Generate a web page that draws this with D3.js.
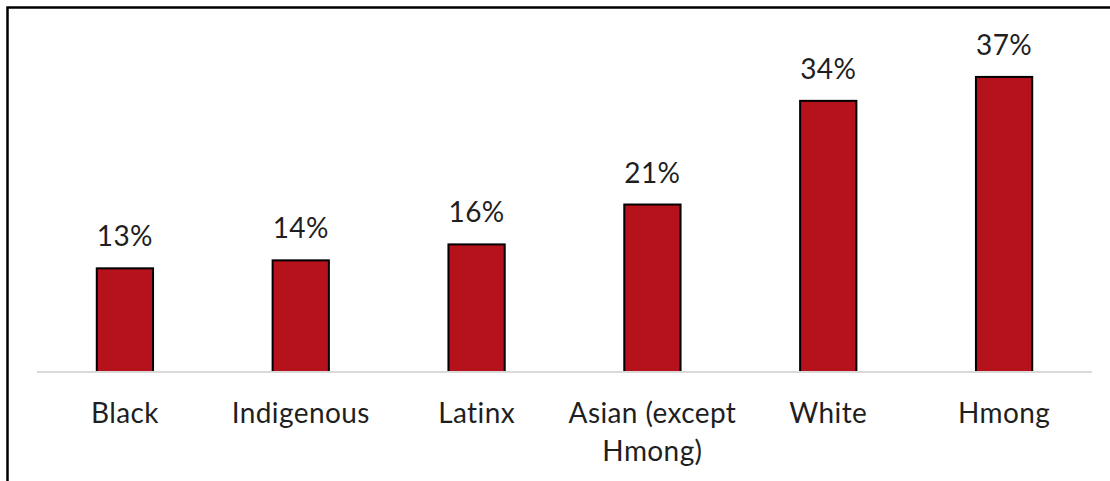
<!DOCTYPE html>
<html>
<head>
<meta charset="utf-8">
<script src="https://cdn.jsdelivr.net/npm/d3@7"></script>
<style>
  html, body { margin: 0; padding: 0; background: #fff; }
  svg { display: block; }
  text { font-family: Lato, "Open Sans", sans-serif; fill: #1f1f1f; letter-spacing: 0.4px; }
</style>
</head>
<body>
<svg id="chart" width="1110" height="481"></svg>
<script>
// Share of each group (percent)
const categories = ["Black", "Indigenous", "Latinx", "Asian (except|Hmong)", "White", "Hmong"];
const values = [13, 14, 16, 21, 34, 37];

const svg = d3.select("#chart");
const W = 1110, H = 481;

// chart frame (extends past the right/bottom edges)
svg.append("rect")
  .attr("x", 7.5).attr("y", 7.5)
  .attr("width", W + 20).attr("height", H + 20)
  .attr("fill", "none").attr("stroke", "#000").attr("stroke-width", 2.5);

const x = d3.scaleBand()
  .domain(categories)
  .range([37, 1092])
  .paddingInner(0.68)
  .paddingOuter(0.34);

const y = d3.scaleLinear()
  .domain([0, 40])
  .range([372, 53]);

// bars
svg.append("g").selectAll("rect")
  .data(values)
  .join("rect")
  .attr("x", (d, i) => x(categories[i]))
  .attr("y", d => y(d))
  .attr("width", x.bandwidth())
  .attr("height", d => y(0) - y(d))
  .attr("fill", "#b5121b")
  .attr("stroke", "#000")
  .attr("stroke-width", 2);

// baseline
svg.append("line")
  .attr("x1", 37).attr("x2", 1092)
  .attr("y1", y(0)).attr("y2", y(0))
  .attr("stroke", "#d9d9d9").attr("stroke-width", 2);

// value labels
svg.append("g").selectAll("text")
  .data(values)
  .join("text")
  .attr("x", (d, i) => x(categories[i]) + x.bandwidth() / 2)
  .attr("y", d => y(d) - 22)
  .attr("text-anchor", "middle")
  .attr("font-size", 28)
  .text(d => d + "%");

// category labels (split on "|" into lines)
const catG = svg.append("g").selectAll("text")
  .data(categories)
  .join("text")
  .attr("x", d => x(d) + x.bandwidth() / 2)
  .attr("y", 423)
  .attr("text-anchor", "middle")
  .attr("font-size", 28);
catG.each(function(d) {
  const t = d3.select(this);
  const cx = x(d) + x.bandwidth() / 2;
  d.split("|").forEach((line, k) => {
    t.append("tspan").attr("x", cx).attr("dy", k === 0 ? 0 : 38).text(line);
  });
});
</script>
</body>
</html>
